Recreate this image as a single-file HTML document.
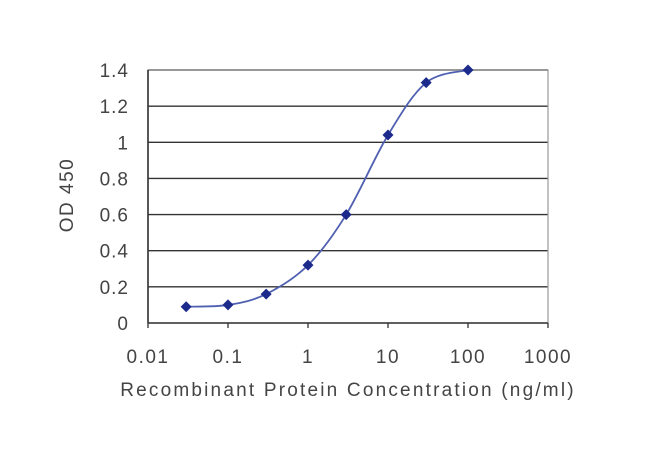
<!DOCTYPE html>
<html><head><meta charset="utf-8"><style>
body{margin:0;background:#fff;}
svg text{font-family:"Liberation Sans",sans-serif;fill:#444;}
</style></head><body>
<svg id="chart" width="650" height="466" xmlns="http://www.w3.org/2000/svg">
<g id="grid"></g>
<g id="axes"></g>
<g id="series"></g>
<text x="348" y="396" font-size="19" letter-spacing="2.2" text-anchor="middle">Recombinant Protein Concentration (ng/ml)</text>
<text transform="translate(73,195) rotate(-90)" font-size="19" letter-spacing="1.5" text-anchor="middle">OD 450</text>
</svg>
<script>
const concentrations=[0.03,0.1,0.3,1,3,10,30,100];
const odValues=[0.09,0.10,0.16,0.32,0.60,1.04,1.33,1.40];
const yTicks=[0,0.2,0.4,0.6,0.8,1,1.2,1.4];
const yTickLabels=["0","0.2","0.4","0.6","0.8","1","1.2","1.4"];
const xTicks=[0.01,0.1,1,10,100,1000];
const xTickLabels=["0.01","0.1","1","10","100","1000"];
const L=148,R=548,T=70,B=323;
const xs=v=>L+(Math.log10(v)+2)/5*(R-L);
const ys=v=>B-v/1.4*(B-T);
const NS="http://www.w3.org/2000/svg";
function mk(parent,tag,attrs){const e=document.createElementNS(NS,tag);for(const k in attrs)e.setAttribute(k,attrs[k]);parent.appendChild(e);return e;}
const grid=document.getElementById('grid'),axes=document.getElementById('axes'),series=document.getElementById('series');
yTicks.forEach((v,i)=>{
  if(v>0){const g=mk(grid,'line',{x1:L,x2:R,y1:ys(v),y2:ys(v),stroke:'#333','stroke-width':1.4});
  
  }
  const t=mk(axes,'text',{x:L-19,y:ys(v)+7,'font-size':19,'letter-spacing':1,'text-anchor':'end'});t.textContent=yTickLabels[i];
  
  
});
const fr=mk(axes,'rect',{x:L,y:T,width:R-L,height:B-T,fill:'none',stroke:'#999','stroke-width':1.2});


const xa=mk(axes,'line',{x1:L,x2:R,y1:B,y2:B,stroke:'#333','stroke-width':1.6});


const ya=mk(axes,'line',{x1:L,x2:L,y1:T,y2:B,stroke:'#333','stroke-width':1.6});


xTicks.forEach((v,i)=>{
  const tk=mk(axes,'line',{x1:xs(v),x2:xs(v),y1:B,y2:B+5,stroke:'#333','stroke-width':1.3});
  
  
  const t=mk(axes,'text',{x:xs(v),y:B+40,'font-size':19,'letter-spacing':1.5,'text-anchor':'middle'});t.textContent=xTickLabels[i];
  
  
});
const P=concentrations.map((c,i)=>[xs(c),ys(odValues[i])]);
let d=`M${P[0][0]},${P[0][1]}`;
for(let i=0;i<P.length-1;i++){
  const p0=P[Math.max(0,i-1)],p1=P[i],p2=P[i+1],p3=P[Math.min(P.length-1,i+2)];
  const c1=[p1[0]+(p2[0]-p0[0])/6,p1[1]+(p2[1]-p0[1])/6],c2=[p2[0]-(p3[0]-p1[0])/6,p2[1]-(p3[1]-p1[1])/6];
  d+=` C${c1[0]},${c1[1]} ${c2[0]},${c2[1]} ${p2[0]},${p2[1]}`;
}
const cv=mk(series,'path',{d:d,fill:'none',stroke:'#5060b0','stroke-width':1.8});


P.forEach(p=>{
  const m=mk(series,'path',{d:`M${p[0]},${p[1]-5.5} L${p[0]+5.5},${p[1]} L${p[0]},${p[1]+5.5} L${p[0]-5.5},${p[1]} Z`,fill:'#1c2a8c'});
  
  
});
</script>
</body></html>
